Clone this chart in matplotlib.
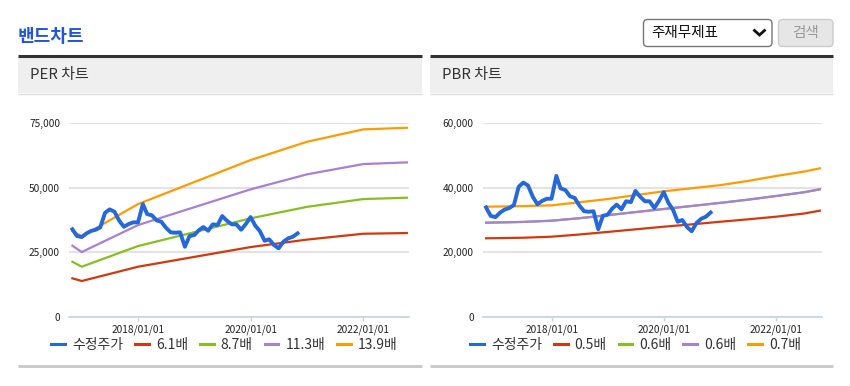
import numpy as np
import pandas as pd
import matplotlib
matplotlib.use("Agg")
import matplotlib.pyplot as plt
import matplotlib.dates as mdates
from matplotlib.patches import Rectangle, FancyBboxPatch
from matplotlib.ticker import FuncFormatter

plt.rcParams['font.family'] = ['Noto Sans CJK KR', 'DejaVu Sans']

#%% data

price_dates = pd.date_range('2016-10-31', periods=49, freq='ME')
price = [33880, 31280, 30890, 32320, 33220, 33720, 34650, 40300, 41620, 40700,
         37210, 34880, 35930, 36590, 36590, 43680, 39800, 39300, 37360, 36820,
         34500, 32710, 32560, 32710, 27130, 31280, 31670, 33600, 34770, 33330,
         35810, 35540, 39030, 37210, 35810, 35810, 33720, 35930, 38640, 35270,
         33220, 29460, 30000, 27790, 26510, 29070, 30390, 31010, 32320]

per_dates = pd.to_datetime(['2016-10-31', '2016-12-31', '2017-12-31', '2019-12-31',
                            '2020-12-31', '2021-12-31', '2022-10-10'])
per_61 = [14880, 13840, 19380, 27000, 29900, 32170, 32440]
per_87 = [21300, 19380, 27400, 38140, 42600, 45620, 46130]
per_113 = [27520, 25080, 35540, 49380, 55200, 59190, 59840]
per_139 = [33300, 31200, 43680, 60740, 67830, 72640, 73260]
per_labels = ['수정주가', '6.1배', '8.7배', '11.3배', '13.9배']

pbr_dates = pd.to_datetime(['2016-10-31', '2017-06-30', '2017-12-31', '2018-06-30',
                            '2018-12-31', '2019-06-30', '2019-12-31', '2020-06-30',
                            '2020-12-31', '2021-06-30', '2021-12-31', '2022-06-30',
                            '2022-10-12'])
pbr_05 = [24320, 24500, 24820, 25500, 26300, 27100, 27920, 28650, 29450, 30200, 31020, 32000, 32890]
pbr_06a = [29160, 29400, 29780, 30550, 31500, 32450, 33410, 34350, 35300, 36300, 37440, 38600, 39520]
pbr_06b = [29160, 29400, 29780, 30550, 31500, 32450, 33410, 34350, 35300, 36300, 37440, 38600, 39520]
pbr_07 = [34130, 34300, 34550, 35500, 36500, 37700, 38900, 39850, 40800, 42100, 43650, 45000, 46030]
pbr_labels = ['수정주가', '0.5배', '0.6배', '0.6배', '0.7배']

xticks = pd.to_datetime(['2018-01-01', '2020-01-01', '2022-01-01'])
xlim = pd.to_datetime(['2016-10-09', '2022-10-24'])

colors = ['#2468dd', '#d4380d', '#84c11f', '#a97fd8', '#ff9a00']

#%% figure

W, H = 850, 386
fig = plt.figure(figsize=(W / 100, H / 100), dpi=100)

# page decoration in pixel coords
bg = fig.add_axes([0, 0, 1, 1])
bg.set_xlim(0, W)
bg.set_ylim(H, 0)
bg.axis('off')

bg.text(18, 37, '밴드차트', fontsize=13, fontweight='bold', color='#2255dd', va='center', ha='left')

for x0, x1, title in [(18, 422, 'PER 차트'), (430, 833, 'PBR 차트')]:
    bg.add_patch(Rectangle((x0, 57), x1 - x0, 36, facecolor='#efefef', edgecolor='none'))
    bg.plot([x0, x1], [56, 56], color='#333333', lw=2.2, solid_capstyle='butt')
    bg.plot([x0, x1], [93.5, 93.5], color='#dddddd', lw=1, solid_capstyle='butt')
    bg.plot([x0, x1], [366, 366], color='#c8c8c8', lw=2, solid_capstyle='butt')
    bg.text(x0 + 12, 75.5, title, fontsize=10.8, color='#333333', va='center', ha='left')

# select box + button
bg.add_patch(FancyBboxPatch((643.5, 19.5), 128.5, 27, boxstyle='round,pad=0,rounding_size=4',
                            facecolor='white', edgecolor='#767676', lw=1))
bg.text(651.5, 33.5, '주재무제표', fontsize=10.5, color='#111111', va='center', ha='left')
bg.plot([754.5, 759.5, 764.5], [30.5, 35, 30.5], color='#111111', lw=2, solid_joinstyle='miter')
bg.add_patch(FancyBboxPatch((778.5, 19.5), 54.5, 27, boxstyle='round,pad=0,rounding_size=4',
                            facecolor='#e6e6e6', edgecolor='#cccccc', lw=1))
bg.text(805.5, 33.5, '검색', fontsize=10.5, color='#999999', va='center', ha='center')


def make_axes(x0, x1, ymax, step):
    ax = fig.add_axes([x0 / W, 1 - 316.7 / H, (x1 - x0) / W, (316.7 - 123.3) / H])
    ax.set_xlim(xlim[0], xlim[1])
    ax.set_ylim(0, ymax)
    ax.set_yticks(np.arange(0, ymax + 1, step))
    ax.yaxis.set_major_formatter(FuncFormatter(lambda v, p: f'{int(v):,}'))
    ax.set_xticks(xticks)
    ax.xaxis.set_major_formatter(mdates.DateFormatter('%Y/%m/%d'))
    ax.grid(axis='y', color='#e3e3e3', lw=1.5)
    ax.set_axisbelow(True)
    for s in ['top', 'right', 'left']:
        ax.spines[s].set_visible(False)
    ax.spines['bottom'].set_color('#c5d3e8')
    ax.spines['bottom'].set_linewidth(1.2)
    ax.tick_params(axis='y', length=0, pad=6.5, labelsize=7.3, labelcolor='#222222')
    ax.tick_params(axis='x', length=3, width=1, color='#c5d3e8', pad=2.5,
                   labelsize=7.3, labelcolor='#222222')
    ax.patch.set_alpha(0)
    return ax


#%% PER chart
ax1 = make_axes(69, 409, 75000, 25000)
ax1.plot(per_dates, per_61, color=colors[1], lw=1.6, clip_on=False)
ax1.plot(per_dates, per_87, color=colors[2], lw=1.6, clip_on=False)
ax1.plot(per_dates, per_113, color=colors[3], lw=1.6, clip_on=False)
ax1.plot(per_dates, per_139, color=colors[4], lw=1.6, clip_on=False)
ax1.plot(price_dates, price, color=colors[0], lw=2.8, clip_on=False, zorder=5)

#%% PBR chart
ax2 = make_axes(482.7, 821.7, 60000, 20000)
ax2.plot(pbr_dates, pbr_05, color=colors[1], lw=1.6, clip_on=False)
ax2.plot(pbr_dates, pbr_06a, color=colors[2], lw=1.6, clip_on=False)
ax2.plot(pbr_dates, pbr_06b, color=colors[3], lw=1.6, clip_on=False)
ax2.plot(pbr_dates, pbr_07, color=colors[4], lw=1.6, clip_on=False)
ax2.plot(price_dates, price, color=colors[0], lw=2.8, clip_on=False, zorder=5)

#%% legends
for cx, labels in [(224.5, per_labels), (635.5, pbr_labels)]:
    handles = [plt.Line2D([], [], color=c, lw=2.2) for c in colors]
    fig.legend(handles, labels, loc='center', bbox_to_anchor=(cx / W, 1 - 345 / H),
               ncol=5, frameon=False, fontsize=10, handlelength=1.0, handletextpad=0.5,
               columnspacing=0.85, labelcolor='#333333', borderaxespad=0, borderpad=0)

fig.savefig('out.png', dpi=100)
